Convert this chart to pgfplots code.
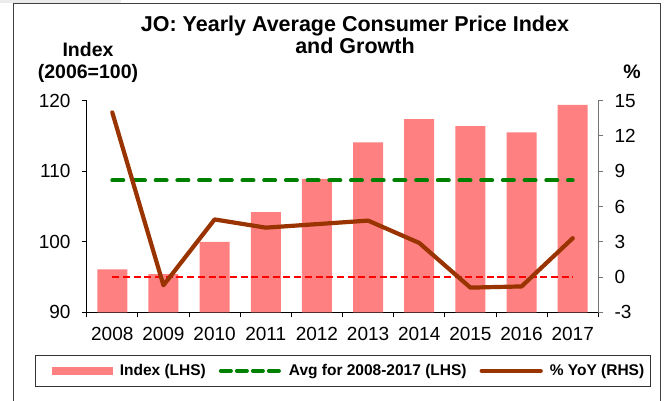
\documentclass[border=0pt]{standalone}
\usepackage{pgfplots}
\usepackage{pgfplotstable}
\pgfplotsset{compat=1.18}
\usepackage{fontspec}
\setmainfont{Liberation Sans}

\definecolor{barpink}{RGB}{255,128,128}
\definecolor{avggreen}{RGB}{0,128,0}
\definecolor{yoybrown}{RGB}{153,51,0}
\definecolor{zerored}{RGB}{255,0,0}

% x = category slot, idx = index (LHS), yoy = % change (RHS)
\pgfplotstableread{
x  year idx   yoy
0  2008 96.1  14.0
1  2009 95.4  -0.7
2  2010 100.0 4.9
3  2011 104.2 4.2
4  2012 108.9 4.5
5  2013 114.1 4.8
6  2014 117.4 2.9
7  2015 116.4 -0.9
8  2016 115.5 -0.8
9  2017 119.4 3.3
}\cpidata

\pgfplotsset{
  cpibase/.style={
    scale only axis, width=511.6pt, height=211.6pt,
    at={(86.7pt,88.7pt)}, anchor=south west,
    xmin=-0.5, xmax=9.5,
    tick align=outside,
    major tick length=5pt, minor tick length=5pt,
    tick label style={font=\fontsize{19}{22}\selectfont},
    /pgf/number format/assume math mode=true,
  },
}

\begin{document}
\begin{tikzpicture}
\path[use as bounding box] (0,0) rectangle (669pt,401pt);
\fill[black!8] (0pt,397.7pt) rectangle (121pt,401pt);
\draw[black!75, line width=1pt] (13.6pt,-2pt) -- (13.6pt,397.7pt) -- (660.5pt,397.7pt) -- (660.5pt,-2pt);

% left axis: index bars and average
\begin{axis}[cpibase,
    ymin=90, ymax=120, ytick={90,100,110,120},
    axis x line*=bottom, axis y line*=left,
    axis line style={-, black, line width=0.9pt},
    xtick={0,...,9},
    xticklabels={2008,2009,2010,2011,2012,2013,2014,2015,2016,2017},
    major x tick style={draw=none},
    minor xtick={-0.5,0.5,...,9.5},
    minor x tick style={black, line width=0.9pt},
    ytick style={black, line width=0.9pt},
    yticklabel style={anchor=east, inner sep=0pt, xshift=-11pt},
    xticklabel style={anchor=north, inner sep=0pt, yshift=-10pt},
    title={JO: Yearly Average Consumer Price Index\\and Growth},
    title style={at={(axis description cs:0.5244,1.2850)}, anchor=center,
      align=center, font=\bfseries\fontsize{21.5}{22}\selectfont},
    ylabel={Index\\(2006=100)},
    ylabel style={rotate=-90, at={(axis description cs:0.0025,1.1796)},
      anchor=center, align=center, font=\bfseries\fontsize{19.5}{21.5}\selectfont},
]
\addplot[ybar, bar width=30pt, bar shift=0pt, fill=barpink, draw=none]
  table[x=x, y=idx] {\cpidata};
\addplot[avggreen, line width=4pt, line cap=round, dash pattern=on 11pt off 10.7pt]
  coordinates {(0,108.7) (9,108.7)};
\end{axis}

% right axis: year-on-year growth
\begin{axis}[cpibase,
    ymin=-3, ymax=15, ytick={-3,0,3,6,9,12,15},
    axis y line*=right, axis x line=none,
    axis line style={-, black!55, line width=1pt},
    ytick style={black!55, line width=1pt},
    yticklabel style={anchor=west, inner sep=0pt, xshift=11pt},
    ylabel={\%},
    ylabel style={rotate=-90, at={(axis description cs:1.0659,1.1356)},
      anchor=center, font=\bfseries\fontsize{19.5}{21.5}\selectfont},
    legend columns=3,
    legend cell align=left,
    legend style={at={(axis description cs:0.501,-0.2018)}, anchor=north,
      draw=black!80, line width=0.9pt, inner xsep=6pt, inner ysep=9pt,
      font=\bfseries\fontsize{15.5}{18}\selectfont,
      nodes={inner sep=0pt},
      /tikz/every odd column/.append style={column sep=7pt},
      /tikz/every even column/.append style={column sep=13pt}},
]
\addplot[forget plot, zerored, line width=1.8pt, dash pattern=on 7pt off 3.7pt]
  coordinates {(0,0) (9,0)};
\addplot[forget plot, yoybrown, line width=4.2pt, line join=round, line cap=round]
  table[x=x, y=yoy] {\cpidata};

\addlegendimage{legend image code/.code={\path[draw=none, fill=none] (0pt,0pt) -- (10pt,0pt); \fill[barpink, draw=none] (10pt,-4pt) rectangle (71pt,4pt);}}
\addlegendentry{Index (LHS)}
\addlegendimage{legend image code/.code={\draw[avggreen, line width=4pt, line cap=round, dash pattern=on 10pt off 6pt] (2pt,0pt) -- (61pt,0pt);}}
\addlegendentry{Avg for 2008-2017 (LHS)}
\addlegendimage{legend image code/.code={\draw[yoybrown, line width=4.2pt, line cap=round] (2pt,0pt) -- (61pt,0pt);}}
\addlegendentry{\% YoY (RHS)}
\end{axis}
\end{tikzpicture}
\end{document}
